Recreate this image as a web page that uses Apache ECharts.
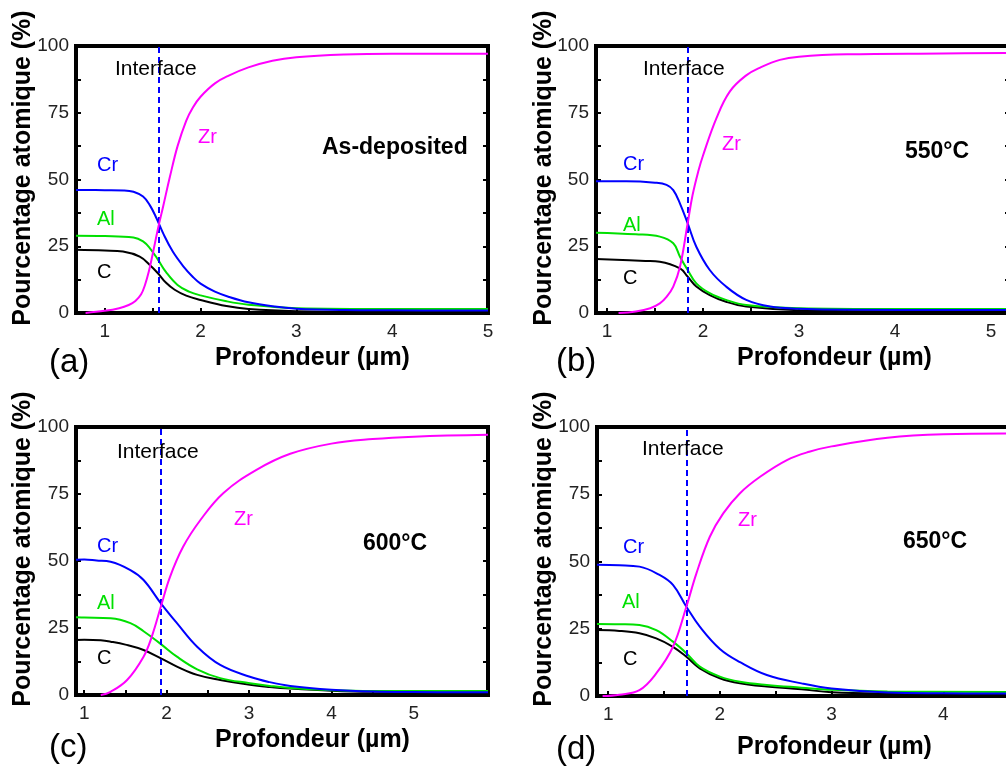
<!DOCTYPE html>
<html>
<head>
<meta charset="utf-8">
<script src="https://cdn.jsdelivr.net/npm/echarts@6/dist/echarts.min.js"></script>
<style>
html,body{margin:0;padding:0;background:#fff;overflow:hidden;}
#c{width:1006px;height:769px;}
</style>
</head>
<body>
<div id="c"></div>
<script>
// ---------- data (depth in µm, atomic %) ----------
var elements = ['C', 'Al', 'Cr', 'Zr'];
var panelTitles = ['As-deposited', '550°C', '600°C', '650°C'];
var panelLetters = ['(a)', '(b)', '(c)', '(d)'];
var interfaceDepth = [1.56, 1.84, 1.93, 1.70];
var xMin = [0.7, 0.885, 0.9, 0.9];
var xMax = [5.0, 5.198, 5.9, 4.606];
var xTickLabels = [[1, 2, 3, 4, 5], [1, 2, 3, 4, 5], [1, 2, 3, 4, 5], [1, 2, 3, 4]];
var xTicks = [
  [1, 1.5, 2, 2.5, 3, 3.5, 4, 4.5, 5],
  [1, 1.5, 2, 2.5, 3, 3.5, 4, 4.5, 5],
  [1, 1.5, 2, 2.5, 3, 3.5, 4, 4.5, 5, 5.5],
  [1, 1.5, 2, 2.5, 3, 3.5, 4, 4.5]
];
var yTickLabels = [0, 25, 50, 75, 100];
var yTicks = [0, 12.5, 25, 37.5, 50, 62.5, 75, 87.5, 100];

// (a) as-deposited
var aC  = [[0.7,23.7],[1.0,23.4],[1.19,23],[1.365,21.1],[1.47,18],[1.555,14.9],[1.64,11.3],[1.73,8.7],[1.85,6.5],[2.0,4.9],[2.27,2.6],[2.5,1.5],[3.0,0.7],[4.0,0.4],[5.0,0.3]];
var aAl = [[0.7,28.9],[1.0,28.8],[1.3,28.3],[1.4,26.8],[1.47,24.3],[1.555,20],[1.64,15.3],[1.76,10.5],[1.88,8],[2.0,6.6],[2.27,4.4],[2.5,3.1],[3.0,1.8],[4.0,1.5],[5.0,1.5]];
var aCr = [[0.7,46.1],[1.0,46.0],[1.2,45.9],[1.3,45.4],[1.4,43.6],[1.47,40.4],[1.54,35.5],[1.61,29.8],[1.71,23],[1.82,17.5],[1.92,13.5],[2.0,11.0],[2.15,8.0],[2.3,6.0],[2.5,4.0],[2.75,2.5],[3.0,1.6],[3.5,1.1],[4.0,1.0],[5.0,0.9]];
var aZr = [[0.8,0],[1.0,0.8],[1.15,1.8],[1.25,3],[1.32,4.5],[1.38,7],[1.42,10.5],[1.46,15.5],[1.5,22],[1.555,31.5],[1.61,40],[1.68,51],[1.76,62.5],[1.85,72],[1.92,77],[2.0,81],[2.15,86],[2.3,89],[2.5,92],[2.75,94.5],[3.0,95.8],[3.5,96.8],[4.0,97.1],[5.0,97.1]];

// (b) 550 °C
var bC  = [[0.885,20.2],[1.4,19.5],[1.55,19.2],[1.76,16.7],[1.84,13.6],[1.93,9.9],[2.07,6.7],[2.24,4.2],[2.45,2.4],[3.0,1.0],[4.0,0.6],[5.198,0.5]];
var bAl = [[0.885,30.1],[1.3,29.5],[1.55,28.6],[1.69,26.1],[1.76,21.1],[1.84,16.1],[1.93,11.1],[2.07,7.4],[2.24,4.9],[2.45,3.0],[3.0,1.8],[4.0,1.5],[5.198,1.5]];
var bCr = [[0.885,49.3],[1.2,49.3],[1.5,48.8],[1.62,48],[1.69,46],[1.76,41],[1.84,33.6],[1.93,24.8],[2.07,16.1],[2.24,9.9],[2.45,4.9],[2.7,2.4],[3.0,1.6],[3.5,1.2],[5.198,1.1]];
var bZr = [[1.12,0],[1.3,0.6],[1.45,1.8],[1.55,3.6],[1.62,6],[1.69,9.9],[1.76,17.3],[1.84,33.6],[1.89,44],[1.95,53],[2.0,59],[2.14,73],[2.28,83],[2.45,89],[2.6,92],[2.8,94.8],[3.0,96],[3.5,96.9],[4.5,97.2],[5.198,97.4]];

// (c) 600 °C
var cC  = [[0.9,20.5],[1.0,20.6],[1.2,20.4],[1.32,19.9],[1.5,18.8],[1.72,16.8],[1.93,13.7],[2.125,10.6],[2.37,7.5],[2.65,5.6],[3.01,3.8],[3.25,3.0],[3.5,2.4],[4.0,1.6],[4.5,1.2],[5.9,1.0]];
var cAl = [[0.9,29],[1.0,28.9],[1.32,28.6],[1.56,26.8],[1.72,23.8],[1.93,19.0],[2.125,14.3],[2.37,9.6],[2.65,6.3],[3.01,4.4],[3.25,3.4],[3.5,2.6],[4.0,1.8],[4.5,1.5],[5.9,1.5]];
var cCr = [[0.9,50.5],[1.0,50.6],[1.15,50.2],[1.32,49.7],[1.56,46.6],[1.72,42.9],[1.93,34.2],[2.125,26.8],[2.37,18],[2.65,11.2],[3.01,6.8],[3.25,4.8],[3.5,3.4],[4.0,2.0],[4.5,1.3],[5.0,1.1],[5.9,1.0]];
var cZr = [[1.2,0],[1.32,1.2],[1.52,5.6],[1.72,14.3],[1.82,21.8],[1.93,33],[2.04,44],[2.2,55.3],[2.41,65.3],[2.69,75.4],[3.09,84],[3.5,90],[4.0,93.8],[4.5,95.5],[5.0,96.4],[5.9,97.1]];

// (d) 650 °C
var dC  = [[0.9,24.5],[1.1,24.2],[1.28,23.3],[1.43,21.4],[1.58,18.3],[1.70,14.6],[1.82,10.3],[2.0,6.6],[2.18,4.7],[2.42,3.5],[2.73,2.5],[3.0,1.4],[3.5,0.9],[4.606,0.6]];
var dAl = [[0.9,26.8],[1.1,26.7],[1.28,26.4],[1.43,24.5],[1.58,20.2],[1.70,15.9],[1.82,10.9],[2.0,7.2],[2.18,5.3],[2.42,4.1],[2.73,3.1],[3.0,2.3],[3.5,1.7],[4.606,1.5]];
var dCr = [[0.9,48.8],[1.1,48.6],[1.28,48.1],[1.46,45],[1.58,41.3],[1.70,33.2],[1.82,25.8],[2.0,17.5],[2.18,12.6],[2.42,7.8],[2.73,4.7],[3.0,2.8],[3.5,1.3],[4.0,1.0],[4.606,0.9]];
var dZr = [[0.95,0],[1.1,0.5],[1.28,2.2],[1.43,8.4],[1.58,18.3],[1.70,33.2],[1.79,45.6],[1.91,59.2],[2.03,67.9],[2.18,75.4],[2.36,81.5],[2.6,87.7],[2.8,90.8],[3.0,92.8],[3.5,96],[4.0,97.3],[4.606,97.6]];

var panelData = [[aC, aAl, aCr, aZr], [bC, bAl, bCr, bZr], [cC, cAl, cCr, cZr], [dC, dAl, dCr, dZr]];

// ---------- styling / layout ----------
var colors = {C: '#000000', Al: '#00E000', Cr: '#0000FF', Zr: '#FF00FF'};
var FONT = '"Liberation Sans", Arial, sans-serif';
var grids = [
  {left: 76, top: 46, width: 412, height: 267},
  {left: 596, top: 46, width: 414, height: 267},
  {left: 76, top: 427, width: 412, height: 268},
  {left: 597, top: 427, width: 414, height: 269}
];

var option = {
  animation: false,
  backgroundColor: '#fff',
  grid: grids.map(function (g) {
    return {left: g.left, top: g.top, width: g.width, height: g.height, show: true,
      borderColor: '#000', borderWidth: 4, backgroundColor: 'transparent',
      containLabel: false, outerBoundsMode: 'none'};
  }),
  xAxis: [], yAxis: [], series: [], graphic: []
};

for (var p = 0; p < 4; p++) {
  option.xAxis.push({
    type: 'value', gridIndex: p, min: xMin[p], max: xMax[p],
    axisLine: {show: false},
    splitLine: {show: false},
    axisTick: {show: true, inside: true, length: 5, customValues: xTicks[p], lineStyle: {color: '#000', width: 2}},
    axisLabel: {customValues: xTickLabels[p], margin: 9, color: '#222', fontSize: 19, fontFamily: FONT}
  });
  option.yAxis.push({
    type: 'value', gridIndex: p, min: 0, max: 100, position: 'left',
    axisLine: {show: false}, splitLine: {show: false},
    axisTick: {show: true, inside: true, length: 5, customValues: yTicks, lineStyle: {color: '#000', width: 2}},
    axisLabel: {customValues: yTickLabels, margin: 7, color: '#222', fontSize: 19, fontFamily: FONT}
  });
  option.yAxis.push({
    type: 'value', gridIndex: p, min: 0, max: 100, position: 'right',
    axisLine: {show: false}, splitLine: {show: false},
    axisTick: {show: true, inside: true, length: 5, customValues: yTicks, lineStyle: {color: '#000', width: 2}},
    axisLabel: {show: false}
  });
  for (var e = 0; e < elements.length; e++) {
    var s = {
      type: 'line', name: elements[e] + p, xAxisIndex: p, yAxisIndex: p * 2,
      data: panelData[p][e], showSymbol: false, symbol: 'none',
      smooth: 0.4,
      lineStyle: {color: colors[elements[e]], width: 2},
      z: 3 + e
    };
    if (e === 0) {
      s.markLine = {
        silent: true, symbol: 'none', label: {show: false},
        lineStyle: {color: '#0000FF', type: [6, 4], width: 2},
        data: [{xAxis: interfaceDepth[p]}]
      };
    }
    option.series.push(s);
  }
}

// ---------- texts ----------
function txt(t, x, y, size, color, bold, align, rot) {
  var el = {type: 'text', x: x, y: y, z: 100,
    style: {text: t, fill: color, font: (bold ? 'bold ' : '') + size + 'px ' + FONT,
      textAlign: align || 'left', textVerticalAlign: 'middle'}};
  if (rot) el.rotation = rot;
  return el;
}
var txtPos = [
  {intf: [115, 69], zr: [198, 137], cr: [97, 165], al: [97, 219], c: [97, 272], title: [322, 148], xn: [215, 358], let: [49, 363], yl: [23, 168]},
  {intf: [643, 69], zr: [722, 144], cr: [623, 164], al: [623, 225], c: [623, 278], title: [905, 152], xn: [737, 358], let: [556, 362], yl: [544, 168]},
  {intf: [117, 452], zr: [234, 519], cr: [97, 546], al: [97, 603], c: [97, 658], title: [363, 544], xn: [215, 740], let: [49, 748], yl: [23, 549]},
  {intf: [642, 449], zr: [738, 520], cr: [623, 547], al: [622, 602], c: [623, 659], title: [903, 542], xn: [737, 747], let: [556, 750], yl: [544, 549]}
];
for (var q = 0; q < 4; q++) {
  var t = txtPos[q];
  option.graphic.push(txt('Interface', t.intf[0], t.intf[1], 21, '#000', false));
  option.graphic.push(txt('Zr', t.zr[0], t.zr[1], 20, colors.Zr, false));
  option.graphic.push(txt('Cr', t.cr[0], t.cr[1], 20, colors.Cr, false));
  option.graphic.push(txt('Al', t.al[0], t.al[1], 20, colors.Al, false));
  option.graphic.push(txt('C', t.c[0], t.c[1], 20, colors.C, false));
  option.graphic.push(txt(panelTitles[q], t.title[0], t.title[1], 23, '#000', true));
  option.graphic.push(txt('Profondeur (µm)', t.xn[0], t.xn[1], 25, '#000', true));
  option.graphic.push(txt(panelLetters[q], t.let[0], t.let[1], 33, '#000', false));
  option.graphic.push(txt('Pourcentage atomique (%)', t.yl[0], t.yl[1], 25, '#000', true, 'center', Math.PI / 2));
}

var chart = echarts.init(document.getElementById('c'), null, {renderer: 'canvas', width: 1006, height: 769});
chart.setOption(option);
</script>
</body>
</html>
